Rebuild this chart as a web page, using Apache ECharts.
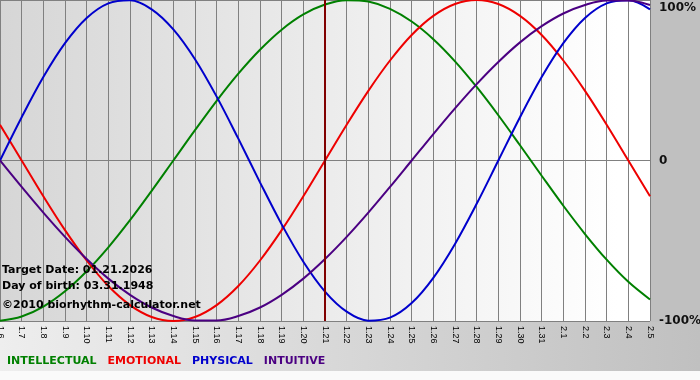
<!DOCTYPE html>
<html>
<head>
<meta charset="utf-8">
<script src="https://cdn.jsdelivr.net/npm/echarts@6/dist/echarts.min.js"></script>
<style>html,body{margin:0;padding:0;background:#fafafa}#c{width:700px;height:380px}</style>
</head>
<body>
<div id="c"></div>
<script>
var days = ['1.6','1.7','1.8','1.9','1.10','1.11','1.12','1.13','1.14','1.15','1.16','1.17','1.18','1.19','1.20','1.21','1.22','1.23','1.24','1.25','1.26','1.27','1.28','1.29','1.30','1.31','2.1','2.2','2.3','2.4','2.5'];
var intellectual = [-99.9,-97.2,-91.0,-81.5,-69.0,-54.1,-37.2,-18.9,0,18.9,37.2,54.1,69.0,81.5,91.0,97.2,99.9,99.0,94.5,86.6,75.6,61.8,45.8,28.2,9.5,-9.5,-28.2,-45.8,-61.8,-75.6,-86.6];
var emotional = [22.3,0,-22.3,-43.4,-62.3,-78.2,-90.1,-97.5,-100,-97.5,-90.1,-78.2,-62.3,-43.4,-22.3,0,22.3,43.4,62.3,78.2,90.1,97.5,100,97.5,90.1,78.2,62.3,43.4,22.3,0,-22.3];
var physical = [0,27.0,52.0,73.1,88.8,97.9,99.8,94.2,81.7,63.1,39.8,13.6,-13.6,-39.8,-63.1,-81.7,-94.2,-99.8,-97.9,-88.8,-73.1,-52.0,-27.0,0,27.0,52.0,73.1,88.8,97.9,99.8,94.2];
var intuitive = [0,-16.5,-32.5,-47.6,-61.4,-73.6,-83.7,-91.6,-96.9,-99.7,-99.7,-96.9,-91.6,-83.7,-73.6,-61.4,-47.6,-32.5,-16.5,0,16.5,32.5,47.6,61.4,73.6,83.7,91.6,96.9,99.7,99.7,96.9];
var yTicks = {'100':'100%','0':'0','-100':'-100%'};
var targetDay = '1.21';
var infoLines = ['Target Date: 01.21.2026','Day of birth: 03.31.1948','\u00a92010 biorhythm-calculator.net'];
var seriesNames = ['INTELLECTUAL','EMOTIONAL','PHYSICAL','INTUITIVE'];
var seriesColors = ['#008000','#ee0000','#0000cc','#4b0082'];

var chart = echarts.init(document.getElementById('c'), null, {renderer:'canvas'});
var F = 'DejaVu Sans, Verdana, sans-serif';
var values = [intellectual, emotional, physical, intuitive];
var series = seriesNames.map(function(n,i){
  return {name:n,type:'line',data:values[i],smooth:0.35,symbol:'none',
    lineStyle:{color:seriesColors[i],width:2},itemStyle:{color:seriesColors[i]},z:3};
});
series[0].markLine = {silent:true,symbol:['none','none'],label:{show:false},
  lineStyle:{color:'#800000',width:2,type:'solid'},data:[{xAxis:targetDay}],animation:false};
chart.setOption({
  animation:false,
  backgroundColor:'#fafafa',
  graphic:[
    {type:'rect',z:-100,shape:{x:0,y:0,width:700,height:371},
     style:{fill:new echarts.graphic.LinearGradient(0,0,1,0,[{offset:0,color:'#eeeeee'},{offset:1,color:'#c0c0c0'}])}},
    {type:'rect',z:-99,shape:{x:650,y:0,width:50,height:322},style:{fill:'#c0c0c0'}},
    {type:'text',left:2,top:265,z:10,style:{text:infoLines[0],font:'bold 11px '+F,fill:'#000'}},
    {type:'text',left:2,top:281,z:10,style:{text:infoLines[1],font:'bold 11px '+F,fill:'#000'}},
    {type:'text',left:2,top:300,z:10,style:{text:infoLines[2],font:'bold 11px '+F,fill:'#000'}}
  ],
  legend:{left:2,top:356,padding:0,icon:'none',itemWidth:0,itemHeight:0,itemGap:6,selectedMode:false,
    data:seriesNames.map(function(n,i){return {name:n,textStyle:{color:seriesColors[i]}};}),
    textStyle:{fontFamily:F,fontWeight:'bold',fontSize:11,padding:[0,0,0,0]}},
  grid:{left:0,right:50,top:0,bottom:59,show:true,borderWidth:0,outerBoundsMode:'none',containLabel:false,
    backgroundColor:new echarts.graphic.LinearGradient(0,0,1,0,[{offset:0,color:'#d6d6d6'},{offset:0.95,color:'#ffffff'},{offset:1,color:'#ffffff'}])},
  xAxis:{type:'category',data:days,boundaryGap:false,
    axisLine:{show:true,lineStyle:{color:'#808080',width:1}},
    axisTick:{show:true,interval:0,length:4,lineStyle:{color:'#808080'}},
    splitLine:{show:true,interval:0,lineStyle:{color:'#808080',width:1}},
    axisLabel:{interval:0,rotate:-90,margin:5,fontSize:9,fontFamily:'Liberation Sans, Arial',color:'#000'}},
  yAxis:{type:'value',position:'right',min:-100,max:100,interval:100,
    axisLine:{show:false},axisTick:{show:false},
    splitLine:{show:true,lineStyle:{color:'#808080',width:1}},
    axisLabel:{margin:9,fontFamily:F,fontWeight:'bold',fontSize:12,color:'#111',
      formatter:function(v){var t=yTicks[String(v)]; return v===100?'{t|'+t+'}':t;},
      rich:{t:{fontFamily:F,fontWeight:'bold',fontSize:12,color:'#111',padding:[16,0,0,0]}}}},
  series:series
});
</script>
</body>
</html>
